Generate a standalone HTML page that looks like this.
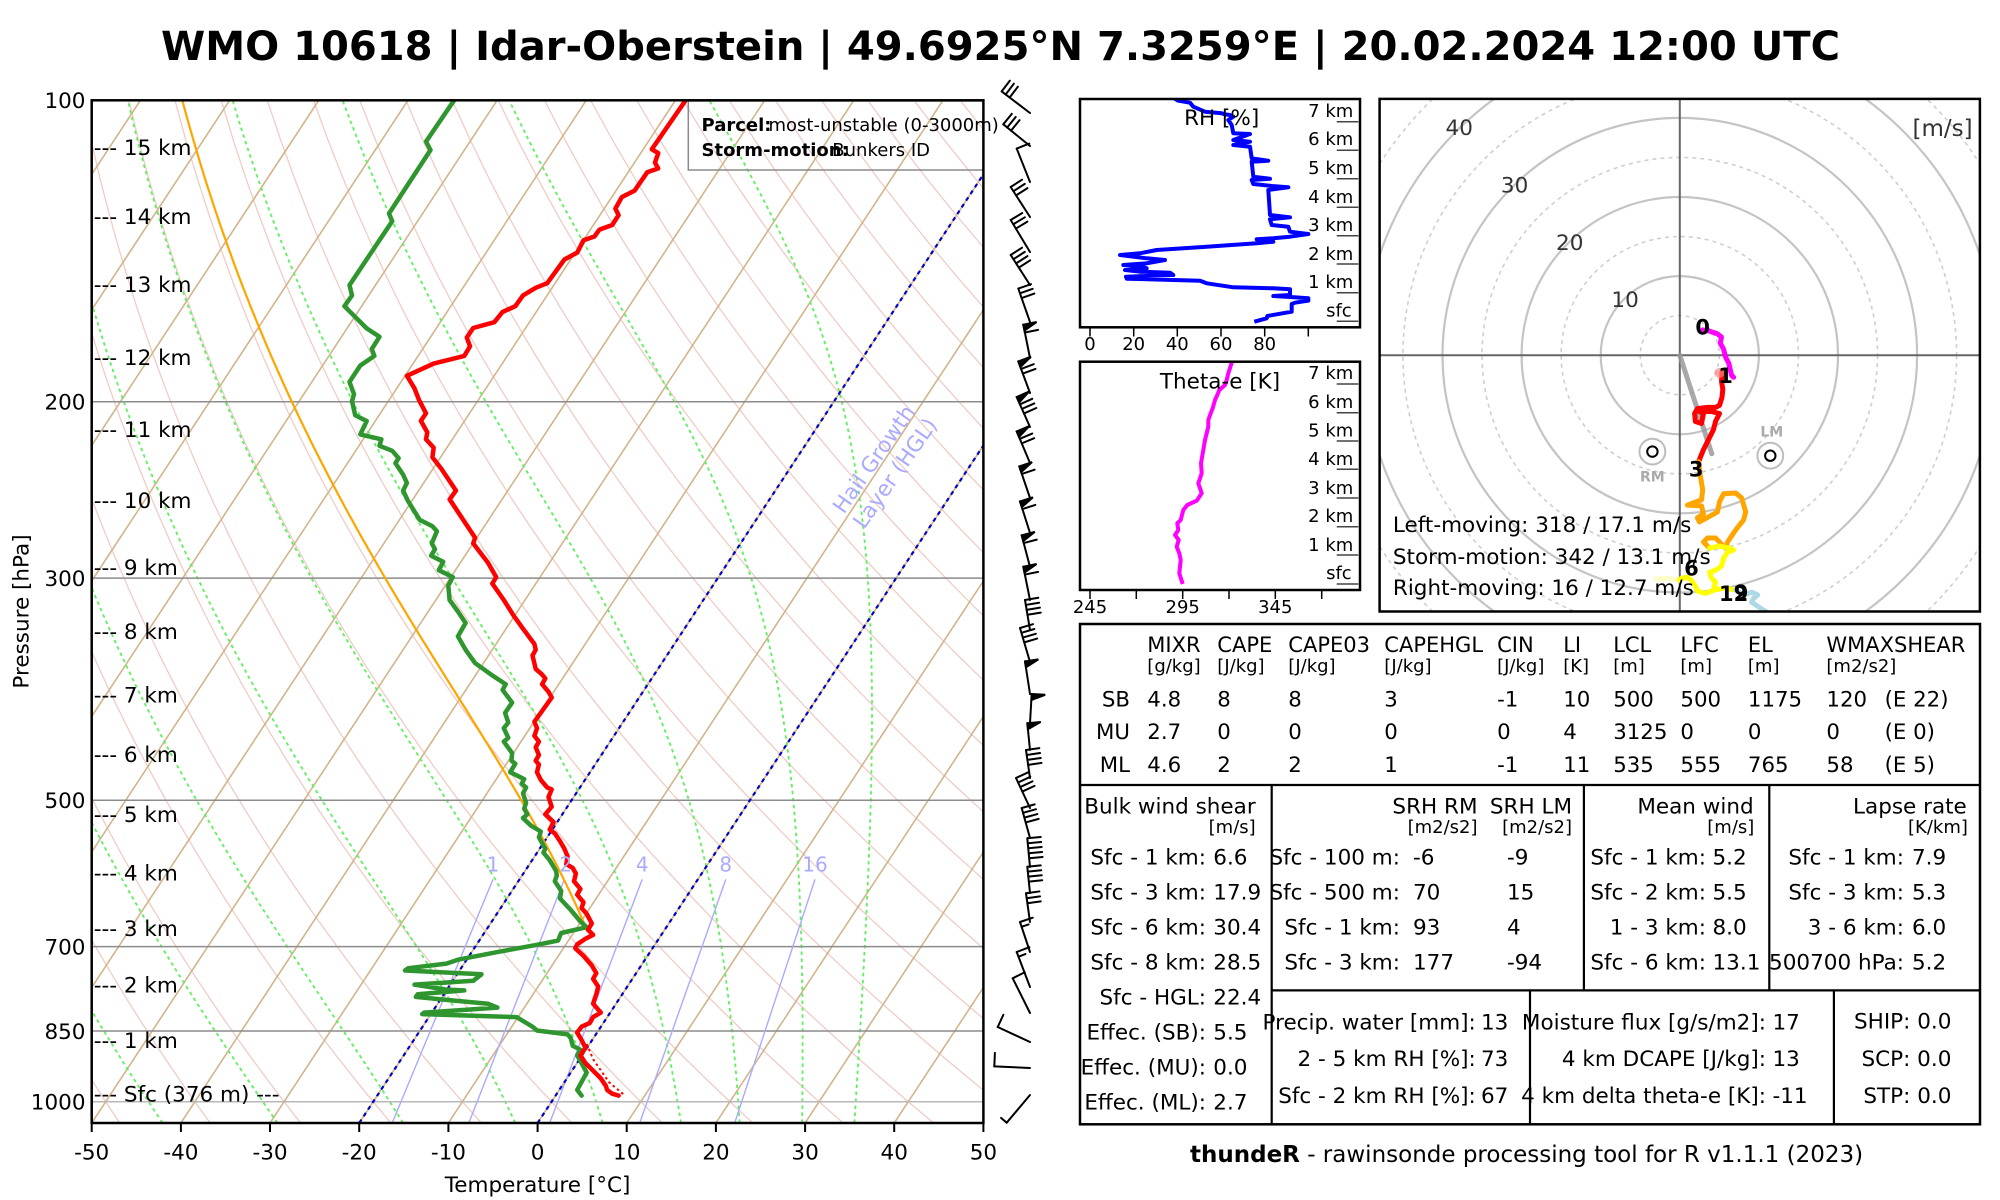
<!DOCTYPE html>
<html><head><meta charset="utf-8">
<style>
html,body{margin:0;padding:0;background:#fff;width:2000px;height:1200px;overflow:hidden}
svg{display:block}
text{font-family:"DejaVu Sans","Liberation Sans",sans-serif;fill:#000}
</style></head>
<body>
<svg id="s" xmlns="http://www.w3.org/2000/svg" width="2000" height="1200" viewBox="0 0 2000 1200">
<defs>
<clipPath id="cp"><rect x="91.7" y="100.3" width="891.7" height="1022.7"/></clipPath>
<clipPath id="cpr"><rect x="1080" y="99" width="280" height="228.3"/></clipPath>
<clipPath id="cpt"><rect x="1080" y="361.7" width="280" height="228.3"/></clipPath>
<clipPath id="cph"><rect x="1379.6" y="98.9" width="600.3" height="512.6"/></clipPath>
</defs>
<rect width="2000" height="1200" fill="#fff"/>

<!-- Title -->
<text x="1000.5" y="60" text-anchor="middle" font-size="40" font-weight="bold" textLength="1679" lengthAdjust="spacingAndGlyphs">WMO 10618 | Idar-Oberstein | 49.6925°N 7.3259°E | 20.02.2024 12:00 UTC</text>

<!-- Skew-T background (script-filled) -->
<g id="skbg" clip-path="url(#cp)"></g>
<g id="skfg" clip-path="url(#cp)"></g>

<!-- HGL text -->
<g font-size="21.5" fill="#aaaaff">
<text transform="translate(873.8,459) rotate(-55)" text-anchor="middle" y="7.5" style="fill:#aaaaff">Hail Growth</text>
<text transform="translate(894.8,473) rotate(-55)" text-anchor="middle" y="7.5" style="fill:#aaaaff">Layer (HGL)</text>
</g>
<!-- mixing ratio labels -->
<g font-size="20" text-anchor="middle">
<text x="493" y="871.5" style="fill:#aaaaff">1</text>
<text x="565.7" y="871.5" style="fill:#aaaaff">2</text>
<text x="642.2" y="871.5" style="fill:#aaaaff">4</text>
<text x="725.8" y="871.5" style="fill:#aaaaff">8</text>
<text x="815" y="871.5" style="fill:#aaaaff">16</text>
</g>

<!-- legend -->
<rect x="688.3" y="101" width="295" height="69" fill="none" stroke="#8a8a8a" stroke-width="1.5"/>
<text x="701.5" y="131" font-size="18" font-weight="bold">Parcel:</text>
<text x="768.5" y="131" font-size="18">most-unstable (0-3000m)</text>
<text x="832.3" y="156" font-size="18">Bunkers ID</text>
<text x="701.5" y="156" font-size="18" font-weight="bold">Storm-motion:</text>

<!-- frame -->
<rect x="91.7" y="100.3" width="891.7" height="1022.7" fill="none" stroke="#000" stroke-width="2.5"/>
<g stroke="#000" stroke-width="2">
<line x1="91.7" y1="1123" x2="91.7" y2="1132"/><line x1="180.9" y1="1123" x2="180.9" y2="1132"/>
<line x1="270" y1="1123" x2="270" y2="1132"/><line x1="359.2" y1="1123" x2="359.2" y2="1132"/>
<line x1="448.4" y1="1123" x2="448.4" y2="1132"/><line x1="537.6" y1="1123" x2="537.6" y2="1132"/>
<line x1="626.7" y1="1123" x2="626.7" y2="1132"/><line x1="715.9" y1="1123" x2="715.9" y2="1132"/>
<line x1="805.1" y1="1123" x2="805.1" y2="1132"/><line x1="894.2" y1="1123" x2="894.2" y2="1132"/>
<line x1="983.4" y1="1123" x2="983.4" y2="1132"/>
</g>
<g font-size="21.5" text-anchor="middle">
<text x="91.7" y="1159.6">-50</text><text x="180.9" y="1159.6">-40</text><text x="270" y="1159.6">-30</text>
<text x="359.2" y="1159.6">-20</text><text x="448.4" y="1159.6">-10</text><text x="537.6" y="1159.6">0</text>
<text x="626.7" y="1159.6">10</text><text x="715.9" y="1159.6">20</text><text x="805.1" y="1159.6">30</text>
<text x="894.2" y="1159.6">40</text><text x="983.4" y="1159.6">50</text>
<text x="537.6" y="1192">Temperature [°C]</text>
<text transform="translate(28.5,611.5) rotate(-90)">Pressure [hPa]</text>
</g>
<g font-size="21.5" text-anchor="end">
<text x="85.5" y="108.1">100</text><text x="85.5" y="409.5">200</text><text x="85.5" y="585.9">300</text>
<text x="85.5" y="808">500</text><text x="85.5" y="954.4">700</text><text x="85.5" y="1038.8">850</text>
<text x="85.5" y="1109.5">1000</text>
</g>
<g font-size="21.5">
<text x="93.8" y="155.1">--- 15 km</text>
<text x="93.8" y="224">--- 14 km</text>
<text x="93.8" y="291.8">--- 13 km</text>
<text x="93.8" y="364.8">--- 12 km</text>
<text x="93.8" y="437.2">--- 11 km</text>
<text x="93.8" y="508">--- 10 km</text>
<text x="93.8" y="575">--- 9 km</text>
<text x="93.8" y="639.2">--- 8 km</text>
<text x="93.8" y="702.3">--- 7 km</text>
<text x="93.8" y="762">--- 6 km</text>
<text x="93.8" y="822.1">--- 5 km</text>
<text x="93.8" y="880.7">--- 4 km</text>
<text x="93.8" y="936.2">--- 3 km</text>
<text x="93.8" y="992.4">--- 2 km</text>
<text x="93.8" y="1047.9">--- 1 km</text>
<text x="93.8" y="1101.5">--- Sfc (376 m) ---</text>
</g>

<!-- wind barbs -->
<g id="barbs" stroke="#000" stroke-width="2" stroke-linecap="round" fill="none"></g>

<!-- RH panel -->
<g id="rhg" clip-path="url(#cpr)"></g>
<rect x="1080" y="99" width="280" height="228.3" fill="none" stroke="#000" stroke-width="2.5"/>
<text x="1221.7" y="125" font-size="21.5" text-anchor="middle">RH [%]</text>
<g font-size="18" text-anchor="end">
<text x="1353.3" y="117.2">7 km</text><text x="1353.3" y="145.2">6 km</text><text x="1353.3" y="173.8">5 km</text>
<text x="1353.3" y="202.8">4 km</text><text x="1353.3" y="231.2">3 km</text><text x="1353.3" y="259.8">2 km</text>
<text x="1353.3" y="287.8">1 km</text><text x="1351.7" y="316.5">sfc</text>
</g>
<g stroke="#444" stroke-width="1.5">
<line x1="1336.7" y1="121.7" x2="1358.3" y2="121.7"/><line x1="1336.7" y1="150.3" x2="1358.3" y2="150.3"/>
<line x1="1336.7" y1="178.7" x2="1358.3" y2="178.7"/><line x1="1336.7" y1="207.3" x2="1358.3" y2="207.3"/>
<line x1="1336.7" y1="235.7" x2="1358.3" y2="235.7"/><line x1="1336.7" y1="264" x2="1358.3" y2="264"/>
<line x1="1336.7" y1="292.7" x2="1358.3" y2="292.7"/><line x1="1336.7" y1="321.3" x2="1358.3" y2="321.3"/>
</g>
<g stroke="#000" stroke-width="1.5">
<line x1="1090" y1="327.3" x2="1090" y2="336.5"/><line x1="1133.7" y1="327.3" x2="1133.7" y2="336.5"/>
<line x1="1177.3" y1="327.3" x2="1177.3" y2="336.5"/><line x1="1221" y1="327.3" x2="1221" y2="336.5"/>
<line x1="1264.7" y1="327.3" x2="1264.7" y2="336.5"/><line x1="1308.3" y1="327.3" x2="1308.3" y2="336.5"/>
</g>
<g font-size="18" text-anchor="middle">
<text x="1090" y="349.8">0</text><text x="1133.7" y="349.8">20</text><text x="1177.3" y="349.8">40</text>
<text x="1221" y="349.8">60</text><text x="1264.7" y="349.8">80</text>
</g>

<!-- Theta-e panel -->
<g id="thg" clip-path="url(#cpt)"></g>
<rect x="1080" y="361.7" width="280" height="228.3" fill="none" stroke="#000" stroke-width="2.5"/>
<text x="1220" y="388.5" font-size="21.5" text-anchor="middle">Theta-e [K]</text>
<g font-size="18" text-anchor="end">
<text x="1353.3" y="379.2">7 km</text><text x="1353.3" y="407.8">6 km</text><text x="1353.3" y="436.5">5 km</text>
<text x="1353.3" y="464.8">4 km</text><text x="1353.3" y="493.8">3 km</text><text x="1353.3" y="522.2">2 km</text>
<text x="1353.3" y="550.8">1 km</text><text x="1351.7" y="579.2">sfc</text>
</g>
<g stroke="#444" stroke-width="1.5">
<line x1="1336.7" y1="384" x2="1358.3" y2="384"/><line x1="1336.7" y1="412.7" x2="1358.3" y2="412.7"/>
<line x1="1336.7" y1="441" x2="1358.3" y2="441"/><line x1="1336.7" y1="469.3" x2="1358.3" y2="469.3"/>
<line x1="1336.7" y1="498" x2="1358.3" y2="498"/><line x1="1336.7" y1="526.7" x2="1358.3" y2="526.7"/>
<line x1="1336.7" y1="555" x2="1358.3" y2="555"/><line x1="1336.7" y1="584" x2="1358.3" y2="584"/>
</g>
<g stroke="#000" stroke-width="1.5">
<line x1="1090" y1="590" x2="1090" y2="599"/><line x1="1136.3" y1="590" x2="1136.3" y2="599"/>
<line x1="1182.7" y1="590" x2="1182.7" y2="599"/><line x1="1229" y1="590" x2="1229" y2="599"/>
<line x1="1275.3" y1="590" x2="1275.3" y2="599"/><line x1="1321.7" y1="590" x2="1321.7" y2="599"/>
</g>
<g font-size="18" text-anchor="middle">
<text x="1090" y="613">245</text><text x="1182.7" y="613">295</text><text x="1275.3" y="613">345</text>
</g>

<!-- Hodograph -->
<g id="hodo" clip-path="url(#cph)"></g>
<rect x="1379.6" y="98.9" width="600.3" height="512.6" fill="none" stroke="#000" stroke-width="2.5"/>
<g font-size="21.5" text-anchor="middle">
<text x="1625.1" y="306.8" style="fill:#333">10</text>
<text x="1569.7" y="249.8" style="fill:#333">20</text>
<text x="1514.6" y="192.3" style="fill:#333">30</text>
<text x="1459.2" y="135.2" style="fill:#333">40</text>
</g>
<text x="1972.6" y="136" font-size="23" text-anchor="end" style="fill:#333">[m/s]</text>
<g font-size="14" font-weight="bold" text-anchor="middle">
<text x="1652.4" y="481.5" style="fill:#aaa">RM</text>
<text x="1771.8" y="436.5" style="fill:#aaa">LM</text>
</g>
<g font-size="21" font-weight="bold" text-anchor="middle">
<text x="1702.7" y="334.5">0</text>
<text x="1725.6" y="382.8">1</text>
<text x="1696.2" y="476.4">3</text>
<text x="1691.4" y="575.6">6</text>
<text x="1733.6" y="601">12</text>
<text x="1741" y="600">9</text>
</g>
<g font-size="21.5">
<text x="1392.9" y="531.8">Left-moving: 318 / 17.1 m/s</text>
<text x="1392.9" y="563.8">Storm-motion: 342 / 13.1 m/s</text>
<text x="1392.9" y="595.2">Right-moving: 16 / 12.7 m/s</text>
</g>

<!-- Table -->
<g stroke="#000" fill="none">
<rect x="1080" y="624" width="900" height="500.3" stroke-width="2.5"/>
<line x1="1080" y1="785" x2="1980" y2="785" stroke-width="2.2"/>
<line x1="1271.7" y1="785" x2="1271.7" y2="1124" stroke-width="2.2"/>
<line x1="1583.9" y1="785" x2="1583.9" y2="990.4" stroke-width="2.2"/>
<line x1="1769.3" y1="785" x2="1769.3" y2="990.4" stroke-width="2.2"/>
<line x1="1271.7" y1="990.4" x2="1980" y2="990.4" stroke-width="2.2"/>
<line x1="1530" y1="990.4" x2="1530" y2="1124" stroke-width="2.2"/>
<line x1="1833.9" y1="990.4" x2="1833.9" y2="1124" stroke-width="2.2"/>
</g>
<g font-size="21">
<text x="1147.3" y="652">MIXR</text><text x="1217.3" y="652">CAPE</text><text x="1288.3" y="652">CAPE03</text>
<text x="1384.3" y="652">CAPEHGL</text><text x="1497.1" y="652">CIN</text><text x="1563.2" y="652">LI</text>
<text x="1613.2" y="652">LCL</text><text x="1680.4" y="652">LFC</text><text x="1747.9" y="652">EL</text>
<text x="1826.4" y="652">WMAXSHEAR</text>
</g>
<g font-size="18">
<text x="1147.3" y="672">[g/kg]</text><text x="1217.3" y="672">[J/kg]</text><text x="1288.3" y="672">[J/kg]</text>
<text x="1384.3" y="672">[J/kg]</text><text x="1497.1" y="672">[J/kg]</text><text x="1563.2" y="672">[K]</text>
<text x="1613.2" y="672">[m]</text><text x="1680.4" y="672">[m]</text><text x="1747.9" y="672">[m]</text>
<text x="1826.4" y="672">[m2/s2]</text>
</g>
<g font-size="21.3">
<text x="1130" y="706.4" text-anchor="end">SB</text>
<text x="1130" y="739.2" text-anchor="end">MU</text>
<text x="1130" y="772.1" text-anchor="end">ML</text>
<text x="1147.3" y="706.4">4.8</text><text x="1217.3" y="706.4">8</text><text x="1288.3" y="706.4">8</text>
<text x="1384.3" y="706.4">3</text><text x="1497.1" y="706.4">-1</text><text x="1563.2" y="706.4">10</text>
<text x="1613.2" y="706.4">500</text><text x="1680.4" y="706.4">500</text><text x="1747.9" y="706.4">1175</text>
<text x="1826.4" y="706.4">120</text><text x="1884.6" y="706.4">(E 22)</text>
<text x="1147.3" y="739.2">2.7</text><text x="1217.3" y="739.2">0</text><text x="1288.3" y="739.2">0</text>
<text x="1384.3" y="739.2">0</text><text x="1497.1" y="739.2">0</text><text x="1563.2" y="739.2">4</text>
<text x="1613.2" y="739.2">3125</text><text x="1680.4" y="739.2">0</text><text x="1747.9" y="739.2">0</text>
<text x="1826.4" y="739.2">0</text><text x="1884.6" y="739.2">(E 0)</text>
<text x="1147.3" y="772.1">4.6</text><text x="1217.3" y="772.1">2</text><text x="1288.3" y="772.1">2</text>
<text x="1384.3" y="772.1">1</text><text x="1497.1" y="772.1">-1</text><text x="1563.2" y="772.1">11</text>
<text x="1613.2" y="772.1">535</text><text x="1680.4" y="772.1">555</text><text x="1747.9" y="772.1">765</text>
<text x="1826.4" y="772.1">58</text><text x="1884.6" y="772.1">(E 5)</text>
</g>
<!-- bulk shear -->
<g font-size="21.5">
<text x="1084.3" y="813.5">Bulk wind shear</text>
<text x="1255.7" y="833" font-size="18" text-anchor="end">[m/s]</text>
<g text-anchor="end">
<text x="1206" y="864.5">Sfc - 1 km:</text><text x="1206" y="899.5">Sfc - 3 km:</text>
<text x="1206" y="934.5">Sfc - 6 km:</text><text x="1206" y="969.5">Sfc - 8 km:</text>
<text x="1206" y="1004.5">Sfc - HGL:</text><text x="1206" y="1039.5">Effec. (SB):</text>
<text x="1206" y="1074.5">Effec. (MU):</text><text x="1206" y="1109.5">Effec. (ML):</text>
</g>
<text x="1213.3" y="864.5">6.6</text><text x="1213.3" y="899.5">17.9</text>
<text x="1213.3" y="934.5">30.4</text><text x="1213.3" y="969.5">28.5</text>
<text x="1213.3" y="1004.5">22.4</text><text x="1213.3" y="1039.5">5.5</text>
<text x="1213.3" y="1074.5">0.0</text><text x="1213.3" y="1109.5">2.7</text>
</g>
<!-- SRH -->
<g font-size="21.5">
<text x="1477.5" y="813.5" text-anchor="end">SRH RM</text>
<text x="1572" y="813.5" text-anchor="end">SRH LM</text>
<text x="1477.5" y="833" font-size="18" text-anchor="end">[m2/s2]</text>
<text x="1572" y="833" font-size="18" text-anchor="end">[m2/s2]</text>
<g text-anchor="end">
<text x="1400" y="864.5">Sfc - 100 m:</text><text x="1400" y="899.5">Sfc - 500 m:</text>
<text x="1400" y="934.5">Sfc - 1 km:</text><text x="1400" y="969.5">Sfc - 3 km:</text>
</g>
<text x="1413" y="864.5">-6</text><text x="1413" y="899.5">70</text><text x="1413" y="934.5">93</text><text x="1413" y="969.5">177</text>
<text x="1507" y="864.5">-9</text><text x="1507" y="899.5">15</text><text x="1507" y="934.5">4</text><text x="1507" y="969.5">-94</text>
</g>
<!-- Mean wind -->
<g font-size="21.5">
<text x="1753.6" y="813.5" text-anchor="end">Mean wind</text>
<text x="1754.3" y="833" font-size="18" text-anchor="end">[m/s]</text>
<g text-anchor="end">
<text x="1706" y="864.5">Sfc - 1 km:</text><text x="1706" y="899.5">Sfc - 2 km:</text>
<text x="1706" y="934.5">1 - 3 km:</text><text x="1706" y="969.5">Sfc - 6 km:</text>
</g>
<text x="1712.5" y="864.5">5.2</text><text x="1712.5" y="899.5">5.5</text><text x="1712.5" y="934.5">8.0</text><text x="1712.5" y="969.5">13.1</text>
</g>
<!-- Lapse rate -->
<g font-size="21.5">
<text x="1966.8" y="813.5" text-anchor="end">Lapse rate</text>
<text x="1967.9" y="833" font-size="18" text-anchor="end">[K/km]</text>
<g text-anchor="end">
<text x="1904" y="864.5">Sfc - 1 km:</text><text x="1904" y="899.5">Sfc - 3 km:</text>
<text x="1904" y="934.5">3 - 6 km:</text><text x="1904" y="969.5">500700 hPa:</text>
</g>
<text x="1912" y="864.5">7.9</text><text x="1912" y="899.5">5.3</text><text x="1912" y="934.5">6.0</text><text x="1912" y="969.5">5.2</text>
</g>
<!-- bottom blocks -->
<g font-size="21.5">
<g text-anchor="end">
<text x="1475.8" y="1029.5">Precip. water [mm]:</text>
<text x="1475.8" y="1066.1">2 - 5 km RH [%]:</text>
<text x="1475.8" y="1102.8">Sfc - 2 km RH [%]:</text>
</g>
<text x="1481" y="1029.5">13</text><text x="1481" y="1066.1">73</text><text x="1481" y="1102.8">67</text>
<g text-anchor="end">
<text x="1766" y="1029.5">Moisture flux [g/s/m2]:</text>
<text x="1766" y="1066.1">4 km DCAPE [J/kg]:</text>
<text x="1766" y="1102.8">4 km delta theta-e [K]:</text>
</g>
<text x="1772.5" y="1029.5">17</text><text x="1772.5" y="1066.1">13</text><text x="1772.5" y="1102.8">-11</text>
<g text-anchor="end">
<text x="1951.4" y="1028.5">SHIP: 0.0</text>
<text x="1951.4" y="1066">SCP: 0.0</text>
<text x="1951.4" y="1102.8">STP: 0.0</text>
</g>
</g>

<!-- footer -->
<text x="1190" y="1162" font-size="23"><tspan font-weight="bold">thundeR</tspan> - rawinsonde processing tool for R v1.1.1 (2023)</text>
</svg>

<script>
(function(){
const NS='http://www.w3.org/2000/svg';
function el(parent,tag,attrs){const e=document.createElementNS(NS,tag);for(const k in attrs)e.setAttribute(k,attrs[k]);parent.appendChild(e);return e;}
function pl(parent,pts,attrs){attrs.points=pts.map(p=>p[0].toFixed(1)+','+p[1].toFixed(1)).join(' ');attrs.fill='none';return el(parent,'polyline',attrs);}
const X0=91.7,KT=8.917,S=0.658,YB=1123,YT=100.3,KY=434.9;
const yp=p=>YT+KY*Math.log(p/100);
const xy=(T,p)=>{const y=yp(p);return [X0+(T+50)*KT+S*(YB-y),y];};
const bg=document.getElementById('skbg');

// dry adiabats
for(let th=-60;th<=230;th+=10){const pts=[];for(let p=1050;p>=100;p-=10){const T=(th+273.15)*Math.pow(p/1000,0.2857)-273.15;pts.push(xy(T,p));}pl(bg,pts,{stroke:'#efccc6','stroke-width':1.3});}
// isotherms
for(let T=-130;T<=50;T+=10){const a=xy(T,1050),b=xy(T,100);el(bg,'line',{x1:a[0],y1:a[1],x2:b[0],y2:b[1],stroke:'#d2b48c','stroke-width':1.6});}
// moist adiabats
function es(Tk){const t=Tk-273.15;return 6.112*Math.exp(17.67*t/(t+243.5));}
function dTdp(p,T){const e=es(T);const rs=0.622*e/(p-e);return (1/p)*(287.04*T+2.501e6*rs)/(1005.7+(2.501e6*2.501e6*rs*0.622)/(287.04*T*T));}
function moist(T0,p0,pend){let T=T0+273.15,p=p0;const pts=[xy(T0,p)];const h=-2;
 while(p>pend){const k1=dTdp(p,T),k2=dTdp(p+h/2,T+h/2*k1),k3=dTdp(p+h/2,T+h/2*k2),k4=dTdp(p+h,T+h*k3);T+=h/6*(k1+2*k2+2*k3+k4);p+=h;pts.push(xy(T-273.15,p));}
 return pts;}
for(const T0 of [-42.05,-29.18,-15.09,-2.51,7.29,16.08,22.66,29.66,35.53]){
 pl(bg,moist(T0,1050,99),{stroke:'#5ef05e','stroke-width':1.8,'stroke-dasharray':'3.5 3.5'});
}
// pressure lines
[[200,'#8c8c8c'],[300,'#8c8c8c'],[500,'#8c8c8c'],[700,'#8c8c8c'],[850,'#8c8c8c'],[1000,'#b8b8b8']].forEach(a=>{const y=yp(a[0]);el(bg,'line',{x1:91.7,y1:y,x2:983.4,y2:y,stroke:a[1],'stroke-width':1.5});});
// mixing ratio lines
[[493,879.4,392.2,1123],[564.4,879.4,468.8,1123],[642.2,879.4,549.7,1123],[725.8,879.4,639.7,1123],[815,879.4,734.7,1123]].forEach(a=>{el(bg,'line',{x1:a[0],y1:a[1],x2:a[2],y2:a[3],stroke:'#aaaaff','stroke-width':1.4});});
// blue dashed isotherms (HGL)
[-20,0].forEach(T=>{const a=xy(T,1050),b=xy(T,100);el(bg,'line',{x1:a[0],y1:a[1],x2:b[0],y2:b[1],stroke:'#0000cc','stroke-width':2.2,'stroke-dasharray':'4 4'});});

const fg=document.getElementById('skfg');
// parcel (orange) - pseudoadiabat
pl(fg,moist(-8.8,672.5,99),{stroke:'#ffa500','stroke-width':2.2,'stroke-linejoin':'round'});
// dewpoint
const TD=[[454.1,100.3],[426,141.6],[430.5,150],[389,213.5],[392.2,221.2],[349.5,285.1],[352,295.4],[344.4,306.2],[366.7,328.4],[379.5,336.8],[371.8,349],[374.4,355.9],[360.3,365.5],[349.5,381.9],[354,394.2],[352,401.1],[355.2,415.2],[366.7,421],[360.3,434.4],[381.4,439.3],[379.5,445.8],[392.2,450.8],[398.6,458.1],[395.4,463.1],[403.1,474.6],[406.9,483],[403.1,490.6],[408.2,501.3],[419.6,519.7],[432.4,526.2],[436.9,531.2],[431.8,543.4],[435,549.2],[431.1,555.7],[443.2,561.8],[438.8,570.2],[452.8,577.1],[448.3,585.5],[449.6,600],[457.9,611.5],[465.6,623],[457.9,636.4],[465.6,649.8],[475.1,663.1],[491.1,674.6],[505.7,684.2],[502.6,689.9],[512.1,702.6],[505.1,712.9],[508.3,722.5],[503.8,728.2],[508.3,737.8],[503.8,741.6],[512.1,753.1],[511.5,760.7],[515.3,763.8],[510.2,772.2],[524.2,779.1],[521.7,783.7],[526.1,787.5],[523,793.3],[526.1,802.8],[524.2,808.6],[527.4,814.3],[523,818.1],[531.2,825.8],[540.8,831.5],[538.9,837.3],[545.3,848.8],[543.4,852.6],[549.7,860.2],[556.1,871],[556.8,875.5],[554.8,881.3],[561.2,890.9],[560,898.5],[570.8,910],[580.4,921.5],[586.7,927.2],[561.2,933],[558,940.6],[538.9,944.4],[497.4,952.1],[457.9,959.7],[446.4,963.6],[408.2,968.2],[405,970.5],[481.5,974.3],[473.2,980.8],[414.5,984.6],[446.4,989.6],[464.3,990.4],[417.7,994.2],[415.8,996.9],[446.4,999.9],[487.9,1003.7],[497.4,1007.6],[424.1,1012.6],[422.2,1014.1],[516.6,1017.1],[523,1021],[532.5,1026.7],[537,1030.5],[567.6,1034.4],[570.8,1038.2],[572.7,1045.8],[580.4,1049.7],[577.2,1055.4],[580.4,1061.2],[586.7,1072.6],[577.2,1089.9],[581.6,1095.6]];
pl(fg,TD,{stroke:'#2f962f','stroke-width':4.5,'stroke-linejoin':'round','stroke-linecap':'round'});
// virtual temp dotted
pl(fg,[[586.7,1043.9],[593.1,1059.2],[609,1082.2],[625,1095.6]],{stroke:'#ff0000','stroke-width':2,'stroke-dasharray':'2.5 3'});
// temperature
const TT=[[685.6,100.3],[651.8,149.3],[658.2,153.1],[655,162.6],[658.2,168.4],[647.3,172.2],[634.6,190.6],[621.8,197.1],[615.4,208.6],[618.6,215.1],[612.2,225],[599.5,229.6],[594.4,236.5],[583.5,240.3],[577.2,252.6],[564.4,259.5],[547.2,283.2],[535.7,287.8],[523,295.4],[515.3,306.2],[502.6,311.9],[494.3,322.2],[473.2,328],[466.8,337.5],[470,346.3],[464.3,355.9],[433.7,363.6],[406.9,375.8],[414.5,388.4],[419,399.9],[426,413.3],[420.9,420.9],[427.3,432.4],[426,439.3],[433.7,447.8],[432.4,457.3],[441.3,468.8],[456,490.6],[449.6,499.4],[462.4,518.6],[475.1,537.7],[473.2,543.4],[487.9,562.6],[496.2,577.1],[492.3,583.6],[503.8,600],[513.4,615.3],[523,628.7],[534.4,644],[535.7,649.8],[532.5,655.5],[535.7,668.9],[542.1,674.6],[545.3,678.5],[542.1,684.2],[548.5,691.8],[551.7,697.6],[542.1,711],[534.4,721.7],[537,728.2],[534.4,735.9],[538.9,741.6],[535.7,747.3],[538.9,755],[535.7,760.7],[538.9,764.6],[537,772.2],[540.8,779.9],[547.2,787.5],[551.7,789.4],[548.5,797.1],[551.7,806.7],[545.3,814.3],[553.6,822],[549.7,829.6],[554.8,833.4],[560,841.1],[564.4,848.8],[567.6,856.4],[566.3,864.1],[572.7,867.9],[575.9,873.6],[574,881.3],[580.4,888.9],[577.2,894.7],[583.5,902.3],[581.6,908.1],[586.7,913.8],[591.8,923.4],[588,929.9],[593.1,934.9],[585.5,938.7],[577.2,944.4],[575.3,948.3],[583.5,955.9],[591.8,965.5],[596.3,973.1],[593.1,978.9],[598.2,986.5],[596.3,994.2],[593.1,1003.7],[600.8,1012.6],[593.1,1017.1],[589.9,1022.9],[581.6,1026.7],[577.2,1032.5],[581.6,1040.1],[585.5,1047.8],[580.4,1055.4],[585.5,1063.1],[593.1,1070.7],[600.8,1078.4],[605.9,1086],[607.1,1089.9],[612.2,1093.7],[618.6,1095.6]];
pl(fg,TT,{stroke:'#ff0000','stroke-width':4.5,'stroke-linejoin':'round','stroke-linecap':'round'});

// wind barbs
const bars=[[113,-28.3,-21.6,0,3,0],[146,-26.7,-21.7,0,3,0],[182,-13.3,-33.4,0,1,0],[217,-19.3,-30,0,3,0],[252,-19.3,-32,0,3,0],[285,-19.3,-30,0,4,0],[322,-11.7,-33.4,0,3,0],[358,-6.7,-33.3,1,1,0],[393,-11.7,-31.6,1,2,0],[427,-13.3,-30,1,3,0],[463,-13.3,-31.6,1,2,0],[498,-10.7,-31.6,1,1,0],[533,-10,-31.6,1,1,0],[567,-8.3,-31.7,1,1,0],[600,-6.7,-33.3,1,1,0],[630,-5,-30,0,4,0],[662,-10,-34,0,4,0],[694,-5,-32.6,1,0,0],[723,1.7,-29,1,0,0],[750,-2.7,-26.7,1,0,0],[778,-4,-28,0,4,0],[808,-14,-30,0,4,0],[838,-8.3,-30,0,4,0],[867,-2.7,-28.7,0,5,0],[893,-2.7,-26.3,0,4,0],[922,-4,-28.7,0,3,0],[952,-10,-30,0,1,1],[987,-13.3,-35,0,1,1],[1013,-17.3,-34.7,0,1,0],[1042,-32.3,-15,0,1,0],[1068,-35.7,-1.6,0,1,0],[1095,-23.3,27.7,0,0,1]];
const bb=document.getElementById('barbs');
for(const b of bars){const bx=1030,by=b[0],dx=b[1],dy=b[2];const L=Math.hypot(dx,dy),tx=dx/L,ty=dy/L,fx=-ty,fy=tx;const ex=bx+dx,ey=by+dy;
 el(bb,'line',{x1:bx,y1:by,x2:ex,y2:ey});
 let d=0;const FL=13.5;
 for(let i=0;i<b[3];i++){const px=ex-tx*d,py=ey-ty*d;el(bb,'polygon',{points:px+','+py+' '+(px+fx*FL)+','+(py+fy*FL)+' '+(px-tx*6)+','+(py-ty*6),fill:'#000'});d+=8;}
 for(let i=0;i<b[4];i++){const px=ex-tx*d,py=ey-ty*d;el(bb,'line',{x1:px,y1:py,x2:px+fx*FL,y2:py+fy*FL});d+=5;}
 for(let i=0;i<b[5];i++){const px=ex-tx*d,py=ey-ty*d;el(bb,'line',{x1:px,y1:py,x2:px+fx*FL*0.55,y2:py+fy*FL*0.55});d+=5;}
}

// RH
const rh=[[1254.3,321.7],[1266.7,318.3],[1267.3,316],[1291.7,311.7],[1291.7,304],[1295,302.7],[1308.3,300.7],[1308.3,298.3],[1294,297.3],[1273.3,296],[1290,295],[1290,289.3],[1273.3,288.3],[1233.3,287.3],[1206.7,283.3],[1200,280.7],[1173.3,280],[1126.7,278.7],[1126,276.7],[1173.3,275],[1170,272.7],[1140,271.7],[1125,270],[1146.7,268.3],[1140,266],[1123.3,265],[1146.7,263.3],[1165,260],[1146.7,258.3],[1120,255],[1140,253.3],[1156.7,250],[1206.7,246.7],[1256.7,243.3],[1273.3,241.7],[1256.7,239.3],[1273.3,238.3],[1290,236.7],[1308.3,234],[1290,231.7],[1288.3,226.7],[1271.7,225],[1270,219.3],[1290,217.3],[1270,215],[1268.3,190],[1288.3,187.3],[1271.7,186],[1253.3,184],[1251.7,180],[1270,178.7],[1253.3,176.7],[1251.7,161.7],[1268.3,160.7],[1251.7,158.3],[1250,146.7],[1233.3,145],[1250,141.7],[1233.3,140],[1250,134],[1233.3,133.3],[1231.7,125],[1228.3,120],[1233.3,116.7],[1230,115],[1225,114.3],[1221.7,113.3],[1205,111.7],[1193.3,106.7],[1190,102.7],[1178.3,100.7],[1170,96]];
pl(document.getElementById('rhg'),rh,{stroke:'#0000ff','stroke-width':4,'stroke-linejoin':'round'});
const th=[[1182.7,584],[1179.3,573.3],[1180.7,560],[1179.3,553.3],[1176.7,546.7],[1178.7,540],[1175,535],[1178.3,530],[1177.3,523.3],[1180.7,520],[1183.3,510],[1187.3,505],[1196.7,500.7],[1201.7,493.3],[1198.3,483.3],[1201.7,473.3],[1201,463.3],[1203.3,450],[1205,440],[1206.7,433.3],[1208.3,426.7],[1208.3,420],[1210.7,413.3],[1212.7,408.3],[1215,400],[1217.3,395],[1219.3,390],[1225,385],[1226.7,380],[1228.3,373.3],[1231.7,362.7],[1233,358]];
pl(document.getElementById('thg'),th,{stroke:'#ff00ff','stroke-width':4,'stroke-linejoin':'round'});

// Hodograph
const hg=document.getElementById('hodo');const cx=1679.8,cy=355.2,k=7.91;
for(let r=5;r<=50;r+=5){const solid=(r%10===0);el(hg,'circle',{cx:cx,cy:cy,r:r*k,fill:'none',stroke:solid?'#c4c4c4':'#cfcfcf','stroke-width':solid?2.2:1.6,'stroke-dasharray':solid?'none':'4 4'});}
el(hg,'line',{x1:1379.6,y1:cy,x2:1980,y2:cy,stroke:'#666','stroke-width':2});
el(hg,'line',{x1:cx,y1:98.9,x2:cx,y2:611.5,stroke:'#666','stroke-width':2});
el(hg,'line',{x1:cx,y1:cy,x2:1711.8,y2:453.8,stroke:'#9a9a9a','stroke-width':5,'stroke-opacity':0.85,'stroke-linecap':'round'});
const hs={'stroke-width':5,'stroke-linejoin':'round','stroke-linecap':'round'};
function hl(pts,c){const a=Object.assign({},hs);a.stroke=c;pl(hg,pts,a);}
hl([[1679.4,580.2],[1667.3,578.2],[1655.3,579]],'#ffffc8');
hl([[1702.7,329.9],[1709.5,331.1],[1717.5,333.9],[1721.5,337.1],[1720.3,343.2],[1723.6,349.2],[1725.6,357.2],[1728.8,363.2],[1731.6,375.3],[1733.6,377.3]],'#ff00ff');
hl([[1722,372],[1721.5,381.3],[1722.8,389.4],[1722,397.4],[1719.5,405.4],[1715.5,407.4],[1707.5,407.4],[1697.4,408.6],[1694.6,413.5],[1695.4,421.5],[1701.5,423.5],[1703.5,413.5],[1699.4,411.5],[1711.5,411.5],[1719.5,413.5],[1715.5,421.5],[1713.5,429.5],[1709.5,437.6],[1703.5,449.6],[1698.6,461.7]],'#ff0000');
hl([[1698.6,461.7],[1700.3,475.7],[1702.7,489.8],[1701.5,499.8],[1687.4,505.1],[1701.5,505.9],[1703.5,513.9],[1697.4,517.9],[1699.4,521.9],[1717.5,511.9],[1719.5,501.8],[1723.6,493.8],[1735.6,493],[1741.6,497.8],[1745.7,511.9],[1743.6,519.9],[1735.6,530],[1727.6,542],[1725.6,548.1],[1715.5,538],[1707.5,538],[1703.5,542],[1709.5,548.1]],'#ffa500');
hl([[1709.5,548.1],[1719.5,546.1],[1729.6,548.1],[1733.6,550.1],[1727.6,552.1],[1723.6,558.1],[1721.5,566.1],[1715.5,570.2],[1709.5,572.2],[1711.5,578.2],[1715.5,582.2],[1713.5,590.2],[1705.5,593.5],[1697.4,591],[1695.4,586.2],[1691.4,580.2],[1687.4,577.4],[1681.4,578.2],[1679.4,580.2]],'#ffff00');
hl([[1713.5,590.2],[1725,588],[1735.6,590.2]],'#ffff00');
hl([[1735.6,590.2],[1743.6,595],[1751.7,592.2],[1757.7,595],[1753.7,598.3],[1751.7,602.3],[1757.7,606.3],[1765.7,611.5],[1770,616]],'#add8e6');
el(hg,'circle',{cx:1719.5,cy:373,r:5,fill:'#ff8080','fill-opacity':0.7});
[[1652.4,451.6],[1770.3,455.7]].forEach(c=>{el(hg,'circle',{cx:c[0],cy:c[1],r:12.9,fill:'#fff',stroke:'#bdbdbd','stroke-width':2});el(hg,'circle',{cx:c[0],cy:c[1],r:5.2,fill:'none',stroke:'#000','stroke-width':2});});
})();
</script>
</body></html>
